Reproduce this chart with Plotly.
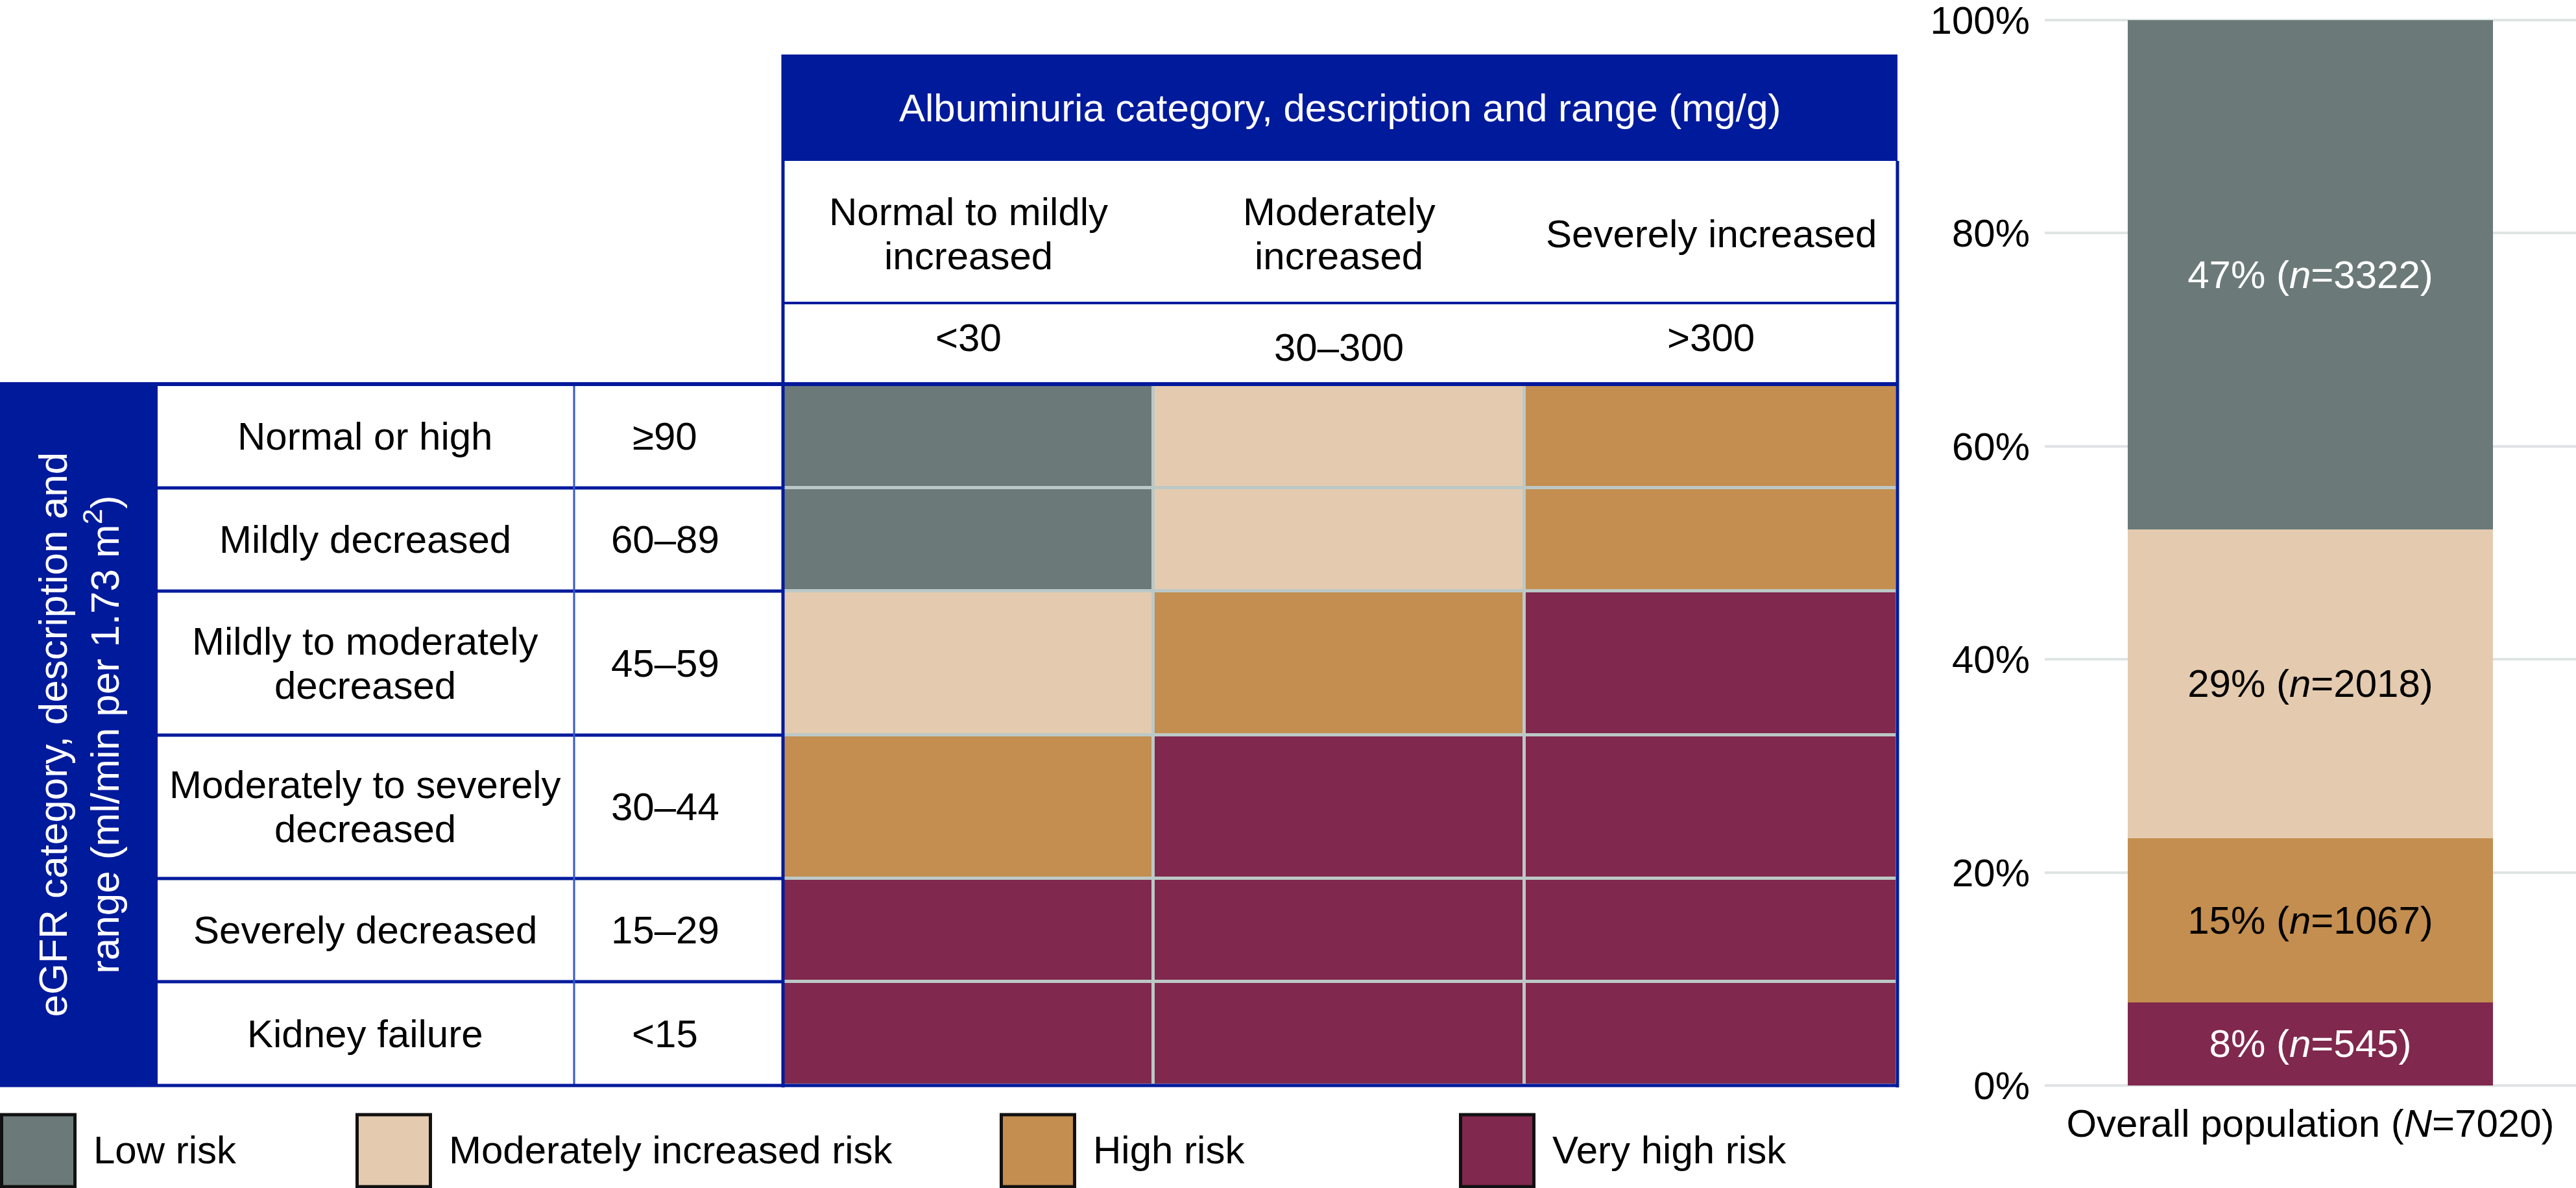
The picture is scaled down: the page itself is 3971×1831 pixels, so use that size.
import plotly.graph_objects as go

W, H = 3971, 1831

# ---------------- data ----------------
ALB_TITLE = "Albuminuria category, description and range (mg/g)"
ALB_DESC = [["Normal to mildly", "increased"], ["Moderately", "increased"], ["Severely increased"]]
ALB_RANGE = ["<30", "30–300", ">300"]

EGFR_TITLE = "eGFR category, description and<br>range (ml/min per 1.73 m<sup>2</sup>)"
EGFR_DESC = [["Normal or high"], ["Mildly decreased"], ["Mildly to moderately", "decreased"],
             ["Moderately to severely", "decreased"], ["Severely decreased"], ["Kidney failure"]]
EGFR_RANGE = ["≥90", "60–89", "45–59", "30–44", "15–29", "<15"]

RISK_LEVELS = ["Low risk", "Moderately increased risk", "High risk", "Very high risk"]
RISK_COLORS = ["#6B7A79", "#E4CBAF", "#C38E4F", "#80284D"]
RISK_TEXT_COLORS = ["white", "black", "black", "white"]

RISK_MATRIX = [
    ["Low risk", "Moderately increased risk", "High risk"],
    ["Low risk", "Moderately increased risk", "High risk"],
    ["Moderately increased risk", "High risk", "Very high risk"],
    ["High risk", "Very high risk", "Very high risk"],
    ["Very high risk", "Very high risk", "Very high risk"],
    ["Very high risk", "Very high risk", "Very high risk"],
]

POP_CATEGORY = "Overall population (<i>N</i>=7020)"
POP_PCT = [47.8, 29.0, 15.4, 7.8]          # Low, Moderate, High, Very high (bar heights, %)
POP_PCT_LABEL = [47, 29, 15, 8]
POP_N = [3322, 2018, 1067, 545]
Y_TICKS = [0, 20, 40, 60, 80, 100]
Y_TICK_TEXT = ["0%", "20%", "40%", "60%", "80%", "100%"]

# ---------------- layout constants (pixels) ----------------
FONT = "Liberation Sans, Arial, Helvetica, sans-serif"
FS = 60
BLUE = "#001A9C"
BLUE_LIGHT = "#3657CF"
GAP_GRAY = "#BCC8C6"

COL_EDGES = [1207, 1778, 2350, 2925]
ROW_EDGES = [592, 752, 911, 1133, 1354, 1513, 1673]
HEADER_TOP, HEADER_BOTTOM, SUB_BOTTOM = 84, 248, 467
BAND_RIGHT, DESC_RIGHT = 243, 885
LINE_H = 68
RANGE_Y = [520, 535, 520]
DESC_X = 563
RANGE_X = 1025

LEG_X = [0, 548, 1541, 2249]
LEG_W = 118
LEG_Y0, LEG_Y1 = 1718, 1829

PLOT_X0 = 3152
Y0_PX, Y100_PX = 1673, 31
YR = [-0.15, 100.15]
px_per = (Y0_PX - Y100_PX) / 100.0

fig = go.Figure()

# ---------- risk matrix as heatmap (pixel overlay axis x2/y2) ----------
z = [[RISK_LEVELS.index(v) for v in row] for row in RISK_MATRIX]
n = len(RISK_COLORS)
cs = []
for i, c in enumerate(RISK_COLORS):
    cs.append([i / n, c])
    cs.append([(i + 1) / n, c])
fig.add_trace(go.Heatmap(
    z=z, x=COL_EDGES, y=ROW_EDGES, xaxis="x2", yaxis="y2",
    zmin=0, zmax=n - 1, colorscale=cs, showscale=False,
    xgap=5, ygap=5, hoverinfo="skip"))

# ---------- stacked bar ----------
for i in reversed(range(len(RISK_LEVELS))):
    fig.add_trace(go.Bar(
        x=[POP_CATEGORY], y=[POP_PCT[i]], name=RISK_LEVELS[i],
        marker=dict(color=RISK_COLORS[i], line=dict(width=0)),
        width=0.6886,
        text=[f"{POP_PCT_LABEL[i]}% (<i>n</i>={POP_N[i]})"],
        textposition="inside", insidetextanchor="middle", textangle=0,
        textfont=dict(family=FONT, size=FS, color=RISK_TEXT_COLORS[i]),
        hoverinfo="skip", showlegend=False, xaxis="x", yaxis="y"))

shapes = []
def rect(x0, y0, x1, y1, fill, line_color=None, lw=0, layer="above"):
    shapes.append(dict(type="rect", xref="x2", yref="y2", x0=x0, y0=y0, x1=x1, y1=y1,
                       fillcolor=fill, line=dict(color=line_color or fill, width=lw), layer=layer))
def line(x0, y0, x1, y1, color, lw):
    shapes.append(dict(type="line", xref="x2", yref="y2", x0=x0, y0=y0, x1=x1, y1=y1,
                       line=dict(color=color, width=lw), layer="above"))

rect(COL_EDGES[0], ROW_EDGES[0], COL_EDGES[-1], ROW_EDGES[-1], GAP_GRAY, layer="below")
rect(COL_EDGES[0] - 2, HEADER_TOP, COL_EDGES[-1], HEADER_BOTTOM, BLUE)
rect(0, ROW_EDGES[0], BAND_RIGHT, ROW_EDGES[-1], BLUE)
for y in ROW_EDGES[1:-1]:
    line(BAND_RIGHT, y, COL_EDGES[0], y, BLUE, 5)
line(DESC_RIGHT, ROW_EDGES[0], DESC_RIGHT, ROW_EDGES[-1], BLUE_LIGHT, 3)
line(COL_EDGES[0], HEADER_TOP, COL_EDGES[0], ROW_EDGES[-1] + 3, BLUE, 5)
line(COL_EDGES[-1], HEADER_BOTTOM, COL_EDGES[-1], ROW_EDGES[-1] + 3, BLUE, 5)
line(COL_EDGES[0], SUB_BOTTOM, COL_EDGES[-1], SUB_BOTTOM, BLUE, 4)
line(0, ROW_EDGES[0], COL_EDGES[-1], ROW_EDGES[0], BLUE, 6)
line(0, ROW_EDGES[-1], COL_EDGES[-1] + 2, ROW_EDGES[-1], BLUE, 5)

for i, lab in enumerate(RISK_LEVELS):
    rect(LEG_X[i] + 2.5, LEG_Y0, LEG_X[i] + LEG_W - 2.5, LEG_Y1, RISK_COLORS[i], "#111111", 5)

ann = []
def text(x, y, s, color="black", anchor="center", angle=0, size=FS):
    ann.append(dict(xref="x2", yref="y2", x=x, y=y, text=s, showarrow=False,
                    xanchor=anchor, yanchor="middle", textangle=angle,
                    font=dict(family=FONT, size=size, color=color)))

def multiline(x, y, lines):
    k = len(lines)
    for j, s in enumerate(lines):
        text(x, y + (j - (k - 1) / 2) * LINE_H, s)

text((COL_EDGES[0] + COL_EDGES[-1]) / 2, (HEADER_TOP + HEADER_BOTTOM) / 2, ALB_TITLE, "white")
for j in range(3):
    cx = (COL_EDGES[j] + COL_EDGES[j + 1]) / 2
    multiline(cx, (HEADER_BOTTOM + SUB_BOTTOM) / 2 + 3, ALB_DESC[j])
    text(cx, RANGE_Y[j], ALB_RANGE[j])
for i in range(6):
    cy = (ROW_EDGES[i] + ROW_EDGES[i + 1]) / 2
    multiline(DESC_X, cy, EGFR_DESC[i])
    text(RANGE_X, cy, EGFR_RANGE[i])
text(121, (ROW_EDGES[0] + ROW_EDGES[-1]) / 2, EGFR_TITLE, "white", angle=-90, size=62)
for i, lab in enumerate(RISK_LEVELS):
    text(LEG_X[i] + LEG_W + 24, 1772, lab, anchor="left", size=60)

fig.update_layout(
    width=W, height=H, autosize=False,
    margin=dict(l=0, r=0, t=0, b=0, pad=0),
    paper_bgcolor="white", plot_bgcolor="rgba(0,0,0,0)",
    barmode="stack", showlegend=False,
    font=dict(family=FONT, size=FS, color="black"),
    shapes=shapes, annotations=ann,
    xaxis=dict(domain=[PLOT_X0 / W, 1.0], range=[-0.5, 0.5], type="category",
               automargin=False,
               showgrid=False, zeroline=False, showline=False, ticks="",
               tickfont=dict(family=FONT, size=FS, color="black"),
               ticklabelstandoff=16, fixedrange=True),
    yaxis=dict(domain=[1 - (Y0_PX - YR[0] * px_per) / H, 1 - (Y100_PX - (YR[1] - 100) * px_per) / H],
               range=YR, automargin=False,
               tickvals=Y_TICKS, ticktext=Y_TICK_TEXT, ticklabeloverflow="allow",
               showgrid=True, gridcolor="#DFE4E4", gridwidth=4,
               zeroline=False, showline=False, ticks="",
               tickfont=dict(family=FONT, size=FS, color="black"),
               ticklabelstandoff=22, fixedrange=True),
    xaxis2=dict(domain=[0, 1], range=[0, W], visible=False, automargin=False,
                fixedrange=True, anchor="y2"),
    yaxis2=dict(domain=[0, 1], range=[H, 0], visible=False, automargin=False,
                fixedrange=True, anchor="x2"),
)

POST = "document.body.style.margin='0';document.body.style.overflow='hidden';"
fig.write_html("out.html", config={"displayModeBar": False}, post_script=POST)
